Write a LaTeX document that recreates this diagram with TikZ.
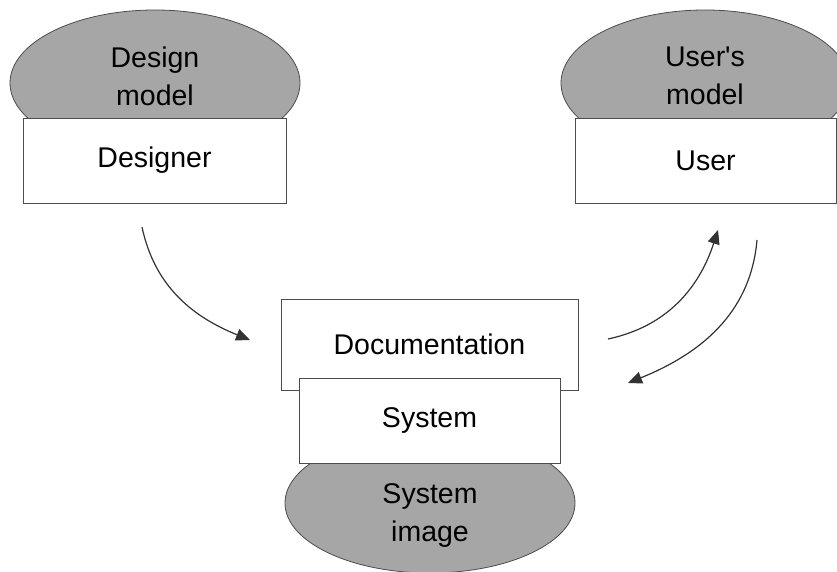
\documentclass[tikz,border=0pt]{standalone}
\usepackage{fontspec}
\setmainfont{Liberation Sans}
\usepackage{tikz}
\usetikzlibrary{arrows.meta,positioning,shapes.geometric}
\usepackage{xcolor}
\tikzset{>=Stealth}

\begin{document}
\begin{tikzpicture}[x=1pt, y=1pt,
  modelo/.style={ellipse, draw=black!70, fill=gris, line width=0.8pt, inner sep=0pt},
  caja/.style={rectangle, draw=black!70, fill=white, line width=0.8pt, inner sep=0pt},
  texto/.style={font=\fontsize{28.5}{38}\selectfont, align=center},
  flecha/.style={->, >={Triangle[length=14pt,width=12pt]}, line width=1.2pt, black!80}]
\definecolor{gris}{HTML}{A6A6A6}

\useasboundingbox (0,0) rectangle (837,571);

% Elipses de los modelos
\node[modelo, minimum width=290pt, minimum height=146pt] (mdis) at (155,488) {};
\node[modelo, minimum width=288pt, minimum height=146pt] (muser) at (705,488) {};
\node[modelo, minimum width=290pt, minimum height=140pt] (mimg) at (430,68) {};
\node[texto] (tdis) at (155,495) {Design\\model};
\node[texto] (tuser) at (705,495) {User\textquotesingle s\\model};
\node[texto] (timg) at (430,55) {System\\image};

% Cajas (encima de las elipses)
\node[caja, texto, minimum width=263pt, minimum height=85pt] (designer) at (154.5,410.5) {Designer};
\node[caja, texto, minimum width=261pt, minimum height=85pt] (user) at (705.5,410.5) {User};
\node[caja, texto, minimum width=297pt, minimum height=91pt] (doc) at (429.5,226.5) {Documentation};
\node[caja, texto, minimum width=261pt, minimum height=85pt] (system) at (429.5,150.5) {System};

% Flechas
\coordinate (a1) at (142,344);
\coordinate (b1) at (250,231);
\coordinate (a2) at (608,232);
\coordinate (b2) at (718,341);
\coordinate (a3) at (757,331);
\coordinate (b3) at (628,188);
\draw[flecha] (a1) to[out=-78, in=158] (b1);
\draw[flecha] (a2) to[out=12, in=-108] (b2);
\draw[flecha] (a3) to[out=-95, in=22] (b3);

\end{tikzpicture}
\end{document}
